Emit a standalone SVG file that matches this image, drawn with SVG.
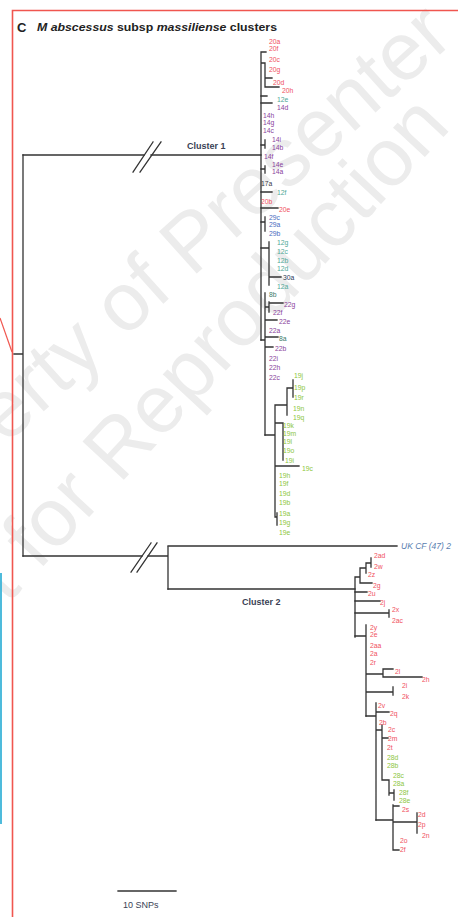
<svg xmlns="http://www.w3.org/2000/svg" width="458" height="917" viewBox="0 0 458 917">
<style>
.wm{font-family:"Liberation Sans",Arial,sans-serif;font-size:82px;fill:#ececec}
.ln{stroke:#333;stroke-width:1.3;fill:none;stroke-linecap:square}
.lb{font-family:"Liberation Sans",Arial,sans-serif;font-size:6.8px}
.r{fill:#f0505e}.p{fill:#8a3f9c}.t{fill:#4fa897}.b{fill:#4a6cc0}.g{fill:#8dc641}.e{fill:#3c7a6a}.k{fill:#3a3a4a}.n{fill:#2c3a5a}.u{fill:#5a80b0}
.cl{font-family:"Liberation Sans",Arial,sans-serif;font-size:9px;font-weight:bold;fill:#3a3f55}
</style>
<rect width="458" height="917" fill="#fff"/>
<g id="watermark">
<text class="wm" text-anchor="end" transform="translate(456,40) rotate(-42)">Property of Presenter</text>
<text class="wm" text-anchor="end" transform="translate(452,128) rotate(-47)">Not for Reproduction</text>
</g>
<g id="frame" fill="none">
<path d="M12.5 917V10.5H458" stroke="#f0564f" stroke-width="1.6"/>
<path d="M0 318L12 352" stroke="#f0564f" stroke-width="1.2"/>
<path d="M1 573V824" stroke="#3bb4d8" stroke-width="1.8"/>
</g>
<g id="title">
<text x="17" y="32" font-family="'Liberation Sans',Arial,sans-serif" font-size="13" font-weight="bold" fill="#222">C</text>
<text x="37" y="31" font-family="'Liberation Sans',Arial,sans-serif" font-size="11" font-weight="bold" fill="#222" textLength="240" lengthAdjust="spacingAndGlyphs"><tspan font-style="italic">M abscessus</tspan> subsp <tspan font-style="italic">massiliense</tspan> clusters</text>
</g>
<g id="connectors" class="ln">
<path d="M14 354H23M23 155V556"/>
<path d="M23 155H144M151 155H261"/>
<path d="M133 172L153 142M140 172L161 142"/>
<path d="M23 556H142M148 556H168M168 547V589"/>
<path d="M131 572L151 543M137 572L157 543"/>
<path d="M168 546H397M168 589H355"/>
<path d="M261 52V340M261 52H266M261 63H265M265 63V87M265 78H272M265 87H279"/>
<path d="M261 96H267M261 103H272M261 145H265M265 140V148M261 169H265M265 166V173"/>
<path d="M261 192H272M261 208H278M261 222H265M265 217V231"/>
<path d="M261 248H269M269 242V285M269 277H281"/>
<path d="M261 340H265M265 293V435M265 307H269M269 302V312M269 303H283M265 320H277M265 337H278M265 347H273"/>
<path d="M265 435H275M275 405V517M275 405H287M287 388V415M287 388H293M293 380V397M275 423H283M283 423V460M275 466H299M275 517H277M277 513V525"/>
<path d="M355 577V637M355 577H360M360 568V583M360 583H372M360 568H366M366 563V573M366 563H371M371 558V567"/>
<path d="M355 592H367M355 601H380M355 613H389M389 610V617"/>
<path d="M355 636H366M366 625V716M366 674H383M383 669V677M383 669H393M383 677H422M366 692H393M393 687V695"/>
<path d="M366 716H376M376 703V820M376 712H389M376 730H382M382 725V780M382 738H388M382 780H389M389 780V795M389 793H394M394 790V800"/>
<path d="M376 820H393M393 805V850M393 806H399M393 822H417M417 813V833M393 850H399"/>
<path d="M118 891H176"/>
</g>
<g id="cluster1-labels" class="lb">
<text class="r" x="269" y="43.5">20a</text>
<text class="r" x="269" y="50.5">20f</text>
<text class="r" x="269" y="61.5">20c</text>
<text class="r" x="269" y="71.5">20g</text>
<text class="r" x="273" y="84.5">20d</text>
<text class="r" x="282" y="92.5">20h</text>
<text class="t" x="277" y="101.5">12e</text>
<text class="p" x="277" y="109.5">14d</text>
<text class="p" x="263" y="117.5">14h</text>
<text class="p" x="263" y="125">14g</text>
<text class="p" x="263" y="132.5">14c</text>
<text class="p" x="272" y="141.5">14i</text>
<text class="p" x="272" y="149.5">14b</text>
<text class="p" x="264" y="158.5">14f</text>
<text class="p" x="272" y="166.5">14e</text>
<text class="p" x="272" y="174">14a</text>
<text class="k" x="261" y="185.5">17a</text>
<text class="t" x="277" y="194.5">12f</text>
<text class="r" x="261" y="203.5">20b</text>
<text class="r" x="279" y="211.5">20e</text>
<text class="b" x="269" y="219.5">29c</text>
<text class="b" x="269" y="226.5">29a</text>
<text class="b" x="269" y="235.5">29b</text>
<text class="t" x="277" y="244.5">12g</text>
<text class="t" x="277" y="253.5">12c</text>
<text class="t" x="277" y="262.5">12b</text>
<text class="t" x="277" y="270.5">12d</text>
<text class="n" x="283" y="279.5">30a</text>
<text class="t" x="277" y="288.5">12a</text>
<text class="e" x="269" y="296.5">8b</text>
<text class="p" x="284" y="306.5">22g</text>
<text class="p" x="273" y="314.5">22f</text>
<text class="p" x="279" y="323.5">22e</text>
<text class="p" x="269" y="332.5">22a</text>
<text class="e" x="279" y="340.5">8a</text>
<text class="p" x="275" y="350.5">22b</text>
<text class="p" x="269" y="360.5">22i</text>
<text class="p" x="269" y="369.5">22h</text>
<text class="p" x="269" y="379.5">22c</text>
<text class="g" x="294" y="377.5">19j</text>
<text class="g" x="294" y="389.5">19p</text>
<text class="g" x="294" y="399.5">19r</text>
<text class="g" x="293" y="410.5">19n</text>
<text class="g" x="293" y="419.5">19q</text>
<text class="g" x="283" y="427.5">19k</text>
<text class="g" x="283" y="435.5">19m</text>
<text class="g" x="283" y="443.5">19l</text>
<text class="g" x="283" y="452.5">19o</text>
<text class="g" x="285" y="462.5">19i</text>
<text class="g" x="302" y="470.5">19c</text>
<text class="g" x="279" y="477.5">19h</text>
<text class="g" x="279" y="485.5">19f</text>
<text class="g" x="279" y="495.5">19d</text>
<text class="g" x="279" y="504.5">19b</text>
<text class="g" x="279" y="515.5">19a</text>
<text class="g" x="279" y="524.5">19g</text>
<text class="g" x="279" y="534.5">19e</text>
</g>
<g id="cluster2-labels" class="lb">
<text class="u" x="401" y="548.5" style="font-size:8.5px;font-style:italic">UK CF (47) 2</text>
<text class="r" x="374" y="557.5">2ad</text>
<text class="r" x="374" y="568.5">2w</text>
<text class="r" x="368" y="576.5">2z</text>
<text class="r" x="373" y="587.5">2g</text>
<text class="r" x="368" y="595.5">2u</text>
<text class="r" x="380" y="604.5">2j</text>
<text class="r" x="392" y="611.5">2x</text>
<text class="r" x="392" y="622.5">2ac</text>
<text class="r" x="370" y="629.5">2y</text>
<text class="r" x="370" y="636.5">2e</text>
<text class="r" x="370" y="647.5">2aa</text>
<text class="r" x="370" y="655.5">2a</text>
<text class="r" x="370" y="664.5">2r</text>
<text class="r" x="395" y="673.5">2l</text>
<text class="r" x="422" y="681.5">2h</text>
<text class="r" x="402" y="687.5">2i</text>
<text class="r" x="402" y="698.5">2k</text>
<text class="r" x="378" y="707.5">2v</text>
<text class="r" x="390" y="715.5">2q</text>
<text class="r" x="379" y="724.5">2b</text>
<text class="r" x="388" y="731.5">2c</text>
<text class="r" x="388" y="740.5">2m</text>
<text class="r" x="387" y="749.5">2t</text>
<text class="g" x="387" y="759.5">28d</text>
<text class="g" x="387" y="767.5">28b</text>
<text class="g" x="393" y="777.5">28c</text>
<text class="g" x="393" y="785.5">28a</text>
<text class="g" x="399" y="794.5">28f</text>
<text class="g" x="399" y="802.5">28e</text>
<text class="r" x="402" y="811.5">2s</text>
<text class="r" x="418" y="816.5">2d</text>
<text class="r" x="418" y="826.5">2p</text>
<text class="r" x="422" y="837.5">2n</text>
<text class="r" x="400" y="842.5">2o</text>
<text class="r" x="400" y="851.5">2f</text>
</g>
<g id="cluster-names">
<text class="cl" x="187" y="149">Cluster 1</text>
<text class="cl" x="242" y="605">Cluster 2</text>
<text class="cl" x="123" y="908" style="font-weight:normal">10 SNPs</text>
</g>
</svg>
